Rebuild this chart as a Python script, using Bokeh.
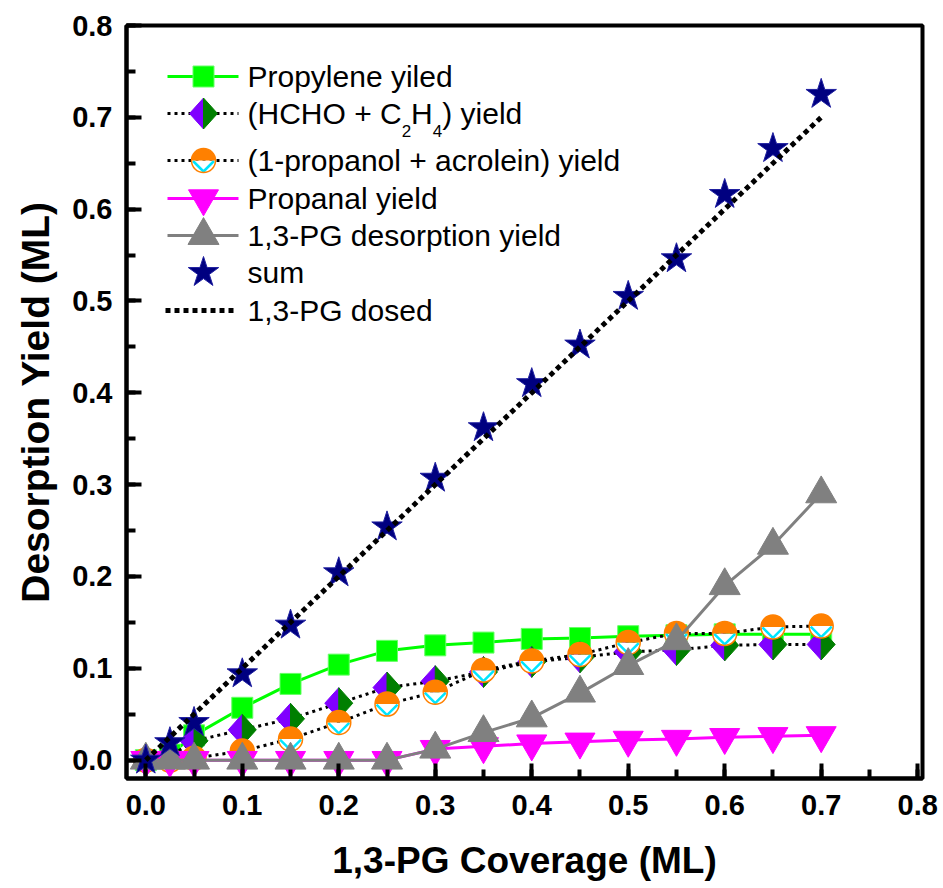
from bokeh.plotting import figure
from bokeh.models import Range1d, SingleIntervalTicker, PrintfTickFormatter
from bokeh.core.properties import value
from bokeh.embed import file_html
from bokeh.resources import INLINE

# ---------------- data ----------------
coverage = [0.0, 0.025, 0.05, 0.1, 0.15, 0.2, 0.25, 0.3, 0.35, 0.4, 0.45, 0.5, 0.55, 0.6, 0.65, 0.7]
propylene = [0.0, 0.006, 0.027, 0.057, 0.083, 0.104, 0.119, 0.125, 0.128, 0.132, 0.133, 0.135, 0.136, 0.137, 0.137, 0.137]
hcho_c2h4 = [0.0, 0.004, 0.021, 0.033, 0.045, 0.062, 0.079, 0.086, 0.096, 0.107, 0.112, 0.118, 0.120, 0.125, 0.126, 0.126]
propanol_acrolein = [0.0, 0.0, 0.002, 0.010, 0.023, 0.041, 0.061, 0.074, 0.098, 0.108, 0.115, 0.128, 0.138, 0.138, 0.145, 0.146]
propanal = [0.0, 0.0, 0.0, 0.0, 0.0, 0.0, 0.0, 0.012, 0.015, 0.018, 0.020, 0.022, 0.023, 0.025, 0.026, 0.027]
pg_desorption = [0.0, 0.0, 0.0, 0.0, 0.0, 0.0, 0.0, 0.012, 0.030, 0.046, 0.073, 0.103, 0.130, 0.190, 0.234, 0.290]
sum_yield = [0.0, 0.019, 0.041, 0.094, 0.147, 0.204, 0.254, 0.307, 0.362, 0.410, 0.452, 0.505, 0.546, 0.616, 0.666, 0.725]
pg_dosed = [0.0, 0.025, 0.05, 0.1, 0.15, 0.2, 0.25, 0.3, 0.35, 0.4, 0.45, 0.5, 0.55, 0.6, 0.65, 0.7]

legend_labels = ["Propylene yiled", "(HCHO + C", "(1-propanol + acrolein) yield",
                 "Propanal yield", "1,3-PG desorption yield", "sum", "1,3-PG dosed"]

x_label = "1,3-PG Coverage (ML)"
y_label = "Desorption Yield (ML)"

# ---------------- layout ----------------
W, H = 943, 888
LEFT, TOP, FW, FH = 126, 25, 796, 753
X0, X1 = -0.02, 0.805
Y0, Y1 = -0.02, 0.8
KX = (X1 - X0) / FW
KY = (Y1 - Y0) / FH

FONT = "Liberation Sans"
GREEN = "#00FF00"
PURPLE = "#8000FF"
DGREEN = "#007F00"
ORANGE = "#FF8000"
CYAN = "#00E5FF"
MAGENTA = "#FF00FF"
GRAY = "#808080"
NAVY = "#000080"


def sx(px):
    return X0 + (px - LEFT) * KX


def sy(py):
    return Y1 - (py - TOP) * KY


def shapes(xs, ys, pts):
    """polygons of pixel offsets pts around every data point"""
    px = [[x + dx * KX for dx, dy in pts] for x in xs]
    py = [[y + dy * KY for dx, dy in pts] for y in ys]
    return px, py


p = figure(width=W, height=H, x_range=Range1d(X0, X1), y_range=Range1d(Y0, Y1),
           output_backend="svg", toolbar_location=None,
           min_border_left=LEFT, min_border_top=TOP,
           min_border_right=W - LEFT - FW, min_border_bottom=H - TOP - FH)
p.grid.visible = False
p.outline_line_color = "black"
p.outline_line_width = 4
p.background_fill_color = "white"
p.border_fill_color = "white"

for ax in (p.xaxis[0], p.yaxis[0]):
    ax.ticker = SingleIntervalTicker(interval=0.1, num_minor_ticks=2)
    ax.formatter = PrintfTickFormatter(format="%.1f")
    ax.axis_line_width = 4
    ax.axis_line_color = "black"
    ax.major_tick_in = 15
    ax.major_tick_out = 0
    ax.minor_tick_in = 9
    ax.minor_tick_out = 0
    ax.major_tick_line_width = 4
    ax.minor_tick_line_width = 4
    ax.major_label_text_font = FONT
    ax.major_label_text_font_style = "bold"
    ax.major_label_text_font_size = "29px"
    ax.major_label_text_color = "black"
    ax.axis_label_text_font = FONT
    ax.axis_label_text_font_style = "bold"
    ax.axis_label_text_color = "black"

p.xaxis.axis_label = x_label
p.yaxis.axis_label = y_label
p.xaxis.axis_label_text_font_size = "37px"
p.yaxis.axis_label_text_font_size = "39px"
p.xaxis.major_label_standoff = 16
p.yaxis.major_label_standoff = 14
p.xaxis.axis_label_standoff = 22
p.yaxis.axis_label_standoff = 12

DIA_L = [(0, 15.5), (-14, 0), (0, -15.5)]
DIA_R = [(0, 15.5), (14, 0), (0, -15.5)]
VEE = [(-10.5, -0.5), (0, -11), (10.5, -0.5)]


def draw_diamond(xs, ys):
    a, b = shapes(xs, ys, DIA_L)
    p.patches(a, b, fill_color=PURPLE, line_color=PURPLE, line_width=1)
    a, b = shapes(xs, ys, DIA_R)
    p.patches(a, b, fill_color=DGREEN, line_color=DGREEN, line_width=1)


def draw_halfcircle(xs, ys):
    p.wedge(xs, ys, radius=12, radius_units="screen", start_angle=3.14159265, end_angle=6.2831853,
            fill_color="white", line_color=None)
    a, b = shapes(xs, ys, VEE)
    p.multi_line(a, b, line_color=CYAN, line_width=2.5)
    p.wedge(xs, ys, radius=12, radius_units="screen", start_angle=0, end_angle=3.14159265,
            fill_color=ORANGE, line_color=None)
    p.circle(xs, ys, radius=12, radius_units="screen", fill_color=None, line_color=ORANGE, line_width=1.5)


# ---------------- series ----------------
p.line(coverage, propylene, line_color=GREEN, line_width=3)
p.scatter(coverage, propylene, marker="square", size=21, fill_color=GREEN, line_color="#66FF66", line_width=1)

p.line(coverage, hcho_c2h4, line_color="black", line_width=3, line_dash="3 4")
draw_diamond(coverage, hcho_c2h4)

p.line(coverage, propanol_acrolein, line_color="black", line_width=3, line_dash="3 4")
draw_halfcircle(coverage, propanol_acrolein)

p.line(coverage, propanal, line_color=MAGENTA, line_width=3)
p.scatter(coverage, propanal, marker="inverted_triangle", size=30, fill_color=MAGENTA, line_color=MAGENTA, line_width=1)

p.line(coverage, pg_desorption, line_color=GRAY, line_width=3)
p.scatter(coverage, pg_desorption, marker="triangle", size=31, fill_color=GRAY, line_color=GRAY, line_width=1)

p.scatter(coverage, sum_yield, marker="star", size=32, fill_color=NAVY, line_color="#2020A0", line_width=1)

p.line(coverage, pg_dosed, line_color="black", line_width=5, line_dash="5 4")

# ---------------- legend (manual) ----------------
rows = [76, 113, 160, 198, 235, 272, 310]
LX0, LX1, LMX, TX = 167, 238, 203, 247
ry = [sy(r) for r in rows]
mx = sx(LMX)

p.line([sx(LX0), sx(LX1)], [ry[0], ry[0]], line_color=GREEN, line_width=3)
p.scatter([mx], [ry[0]], marker="square", size=21, fill_color=GREEN, line_color="#66FF66")

p.line([sx(LX0), sx(LX1)], [ry[1], ry[1]], line_color="black", line_width=3, line_dash="3 4")
draw_diamond([mx], [ry[1]])

p.line([sx(LX0), sx(LX1)], [ry[2], ry[2]], line_color="black", line_width=3, line_dash="3 4")
draw_halfcircle([mx], [ry[2]])

p.line([sx(LX0), sx(LX1)], [ry[3], ry[3]], line_color=MAGENTA, line_width=3)
p.scatter([mx], [ry[3]], marker="inverted_triangle", size=30, fill_color=MAGENTA, line_color=MAGENTA)

p.line([sx(LX0), sx(LX1)], [ry[4], ry[4]], line_color=GRAY, line_width=3)
p.scatter([mx], [ry[4]], marker="triangle", size=31, fill_color=GRAY, line_color=GRAY)

p.scatter([mx], [ry[5]], marker="star", size=32, fill_color=NAVY, line_color="#2020A0")

p.line([sx(165), sx(233)], [ry[6], ry[6]], line_color="black", line_width=5, line_dash="5 4")

LFS = 30
SFS = 17
text_kw = dict(text_font=value(FONT), text_font_size=f"{LFS}px", text_baseline="middle",
               text_align="left", text_color="black")
for i in (0, 2, 3, 4, 5, 6):
    p.text([sx(TX)], [ry[i]], text=[legend_labels[i]], **text_kw)

# (HCHO + C2H4) yield with subscripts
w_main = 5.139 * LFS
w_sub = 0.556 * SFS
w_H = 0.722 * LFS
x_a = TX
x_2 = x_a + w_main
x_H = x_2 + w_sub
x_4 = x_H + w_H
x_end = x_4 + w_sub
p.text([sx(x_a)], [ry[1]], text=[legend_labels[1]], **text_kw)
p.text([sx(x_H)], [ry[1]], text=["H"], **text_kw)
p.text([sx(x_end)], [ry[1]], text=[") yield"], **text_kw)
sub_kw = dict(text_kw)
sub_kw["text_font_size"] = f"{SFS}px"
p.text([sx(x_2), sx(x_4)], [sy(rows[1] + 17)] * 2, text=["2", "4"], **sub_kw)

open("out.html", "w").write(file_html(p, INLINE))
